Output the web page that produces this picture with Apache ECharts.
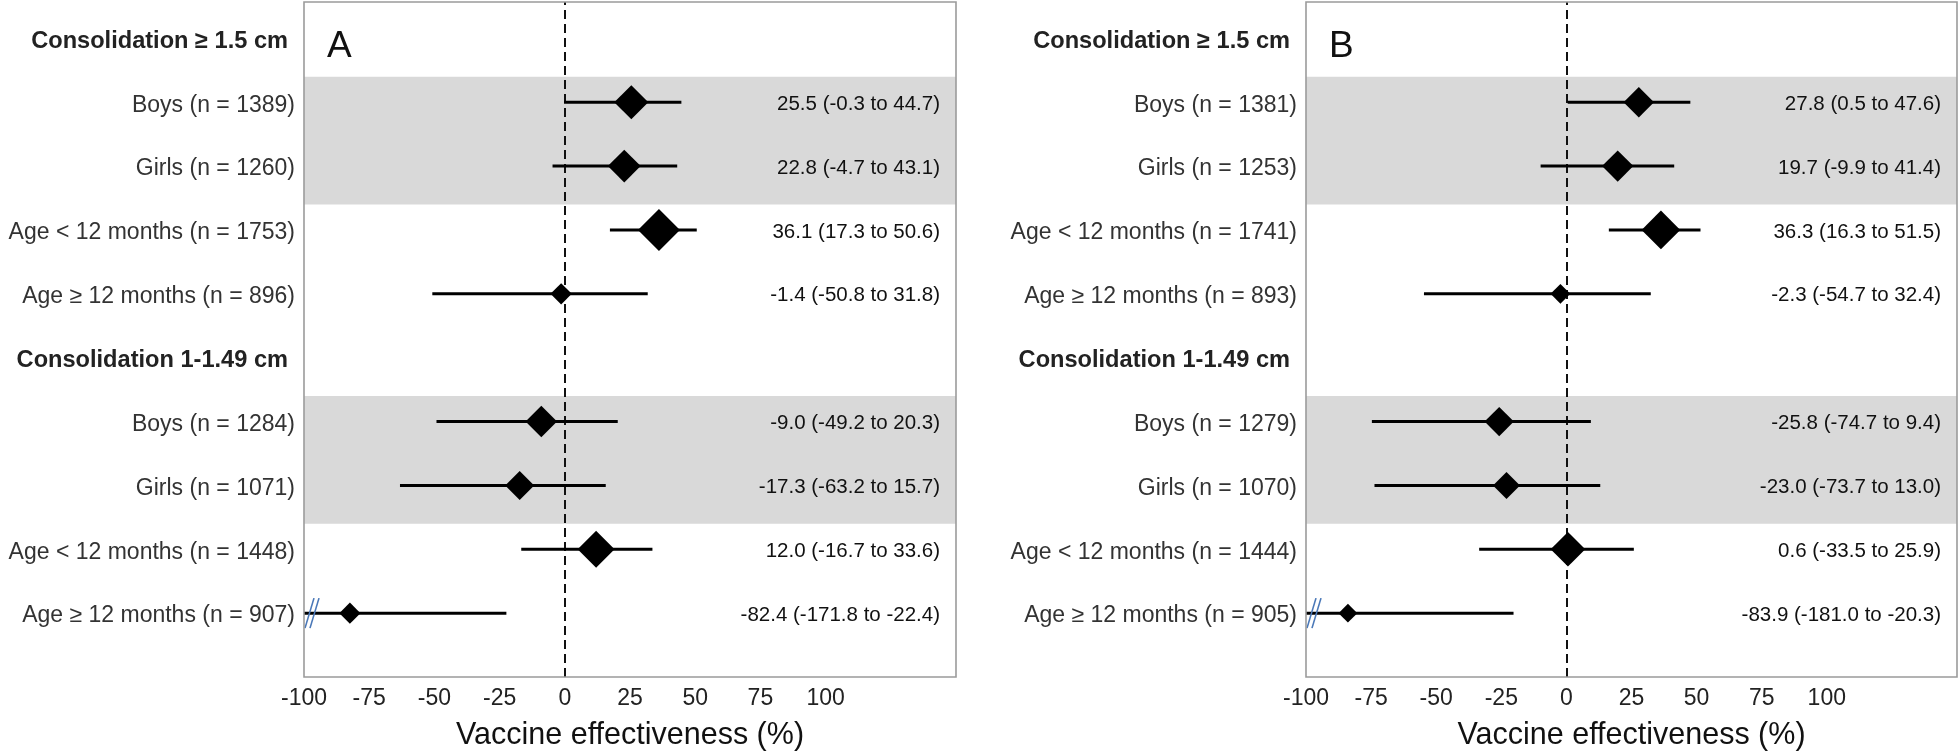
<!DOCTYPE html>
<html><head><meta charset="utf-8">
<script src="https://cdn.jsdelivr.net/npm/echarts@6/dist/echarts.min.js"></script>
<style>html,body{margin:0;padding:0;background:#fff}#c{width:1960px;height:756px}</style>
</head><body><div id="c"></div>
<script>
// ---------- data ----------
const rowLabelsA = ['Consolidation ≥ 1.5 cm','Boys (n = 1389)','Girls (n = 1260)','Age < 12 months (n = 1753)','Age ≥ 12 months (n = 896)','Consolidation 1-1.49 cm','Boys (n = 1284)','Girls (n = 1071)','Age < 12 months (n = 1448)','Age ≥ 12 months (n = 907)'];
const rowLabelsB = ['Consolidation ≥ 1.5 cm','Boys (n = 1381)','Girls (n = 1253)','Age < 12 months (n = 1741)','Age ≥ 12 months (n = 893)','Consolidation 1-1.49 cm','Boys (n = 1279)','Girls (n = 1070)','Age < 12 months (n = 1444)','Age ≥ 12 months (n = 905)'];
const headerRows = [0, 5];
const shadedRows = [[1, 2], [6, 7]];
const estA  = [null, 25.5, 22.8, 36.1, -1.4, null, -9.0, -17.3, 12.0, -82.4];
const lowA  = [null, -0.3, -4.7, 17.3, -50.8, null, -49.2, -63.2, -16.7, -171.8];
const highA = [null, 44.7, 43.1, 50.6, 31.8, null, 20.3, 15.7, 33.6, -22.4];
const estB  = [null, 27.8, 19.7, 36.3, -2.3, null, -25.8, -23.0, 0.6, -83.9];
const lowB  = [null, 0.5, -9.9, 16.3, -54.7, null, -74.7, -73.7, -33.5, -181.0];
const highB = [null, 47.6, 41.4, 51.5, 32.4, null, 9.4, 13.0, 25.9, -20.3];
const xTickMin = -100, xTickMax = 100, xTickStep = 25;
const panelLetters = ['A', 'B'];
const xAxisTitle = 'Vaccine effectiveness (%)';

// ---------- layout / style ----------
const FONT = '"Liberation Sans", Arial, Helvetica, sans-serif';
const XMIN = -100, XMAX = 150;
const NROWS = rowLabelsA.length;
const YMAX = NROWS + 0.57;
const rowVal = i => NROWS - i;
const gridLefts = [304, 1306];
const GRID_W = 652, GRID_TOP = 2, GRID_H = 680;

// diamond size from CI width on the log odds-ratio scale (inverse-SE weight)
function diamondSize(lo, hi) {
  const w = Math.log((1 - lo / 100) / (1 - hi / 100));
  return 30.4 / w - 17;
}

const panels = [
  {labels: rowLabelsA, est: estA, low: lowA, high: highA},
  {labels: rowLabelsB, est: estB, low: lowB, high: highB}
];

const grid = [], xAxis = [], yAxis = [], series = [], graphic = [];
panels.forEach((p, k) => {
  grid.push({left: gridLefts[k], width: GRID_W, top: GRID_TOP, height: GRID_H,
    show: true, backgroundColor: 'transparent', borderColor: '#9b9b9b', borderWidth: 1.6, z: 10});
  xAxis.push({type: 'value', gridIndex: k, min: XMIN, max: XMAX, interval: xTickStep,
    axisLine: {show: false}, axisTick: {show: false}, splitLine: {show: false},
    axisLabel: {fontSize: 23, color: '#222', fontFamily: FONT, margin: 10,
      formatter: v => (v >= xTickMin && v <= xTickMax) ? String(v) : ''},
    name: xAxisTitle, nameLocation: 'middle', nameGap: 43,
    nameTextStyle: {fontSize: 30.5, color: '#111', fontFamily: FONT}});
  yAxis.push({type: 'value', gridIndex: k, min: 0, max: YMAX, interval: 1,
    axisLine: {show: false}, axisTick: {show: false}, splitLine: {show: false},
    axisLabel: {margin: 9, fontFamily: FONT,
      formatter: v => {
        const i = NROWS - v;
        if (Math.abs(i - Math.round(i)) > 1e-6) return '';
        const r = Math.round(i);
        if (r < 0 || r >= NROWS) return '';
        return headerRows.includes(r) ? '{h|' + p.labels[r] + '}' : '{n|' + p.labels[r] + '}';
      },
      rich: {
        h: {fontSize: 23.6, fontWeight: 'bold', color: '#222', fontFamily: FONT, padding: [6, 7, 0, 0]},
        n: {fontSize: 23, color: '#333', fontFamily: FONT, padding: [6, 0, 0, 0]}
      }}});

  const ciData = [], ptData = [], txtData = [];
  p.est.forEach((e, i) => {
    if (e === null) return;
    ciData.push([p.low[i], p.high[i], rowVal(i)]);
    ptData.push([e, rowVal(i), p.low[i], p.high[i]]);
    txtData.push([e, rowVal(i), p.low[i], p.high[i]]);
  });

  // CI lines + axis-break marks
  series.push({type: 'custom', xAxisIndex: k, yAxisIndex: k, z: 3, silent: true,
    encode: {x: [0, 1], y: 2}, data: ciData,
    renderItem: (params, api) => {
      const lo = api.value(0), hi = api.value(1), y = api.value(2);
      const a = api.coord([Math.max(lo, XMIN), y]);
      const b = api.coord([hi, y]);
      const ch = [{type: 'line', shape: {x1: a[0], y1: a[1], x2: b[0], y2: b[1]},
        style: {stroke: '#000', lineWidth: 3}}];
      if (lo < XMIN) {
        [0, 5].forEach(dx => ch.push({type: 'line',
          shape: {x1: a[0] + 1 + dx, y1: a[1] + 15, x2: a[0] + 10 + dx, y2: a[1] - 15},
          style: {stroke: '#4a78b8', lineWidth: 1.6}, z2: 5}));
      }
      return {type: 'group', children: ch};
    },
    markArea: {silent: true, z: 1, itemStyle: {color: '#d9d9d9', borderWidth: 0},
      data: shadedRows.map(([r1, r2]) => [{yAxis: rowVal(r2) - 0.6}, {yAxis: rowVal(r1) + 0.4}])},
    markLine: {silent: true, z: 2, symbol: ['none', 'none'], label: {show: false},
      lineStyle: {type: [9, 5], width: 2, color: '#111'},
      data: [{xAxis: 0}]}
  });

  // diamonds
  series.push({type: 'scatter', xAxisIndex: k, yAxisIndex: k, z: 4, silent: true,
    symbol: 'diamond', symbolSize: v => diamondSize(v[2], v[3]),
    itemStyle: {color: '#000', opacity: 1}, data: ptData});

  // estimate text
  series.push({type: 'custom', xAxisIndex: k, yAxisIndex: k, z: 4, silent: true,
    encode: {x: 0, y: 1}, data: txtData,
    renderItem: (params, api) => {
      const e = api.value(0), y = api.value(1), lo = api.value(2), hi = api.value(3);
      const pt = api.coord([XMAX, y]);
      return {type: 'text', x: pt[0] - 16, y: pt[1] + 2,
        style: {text: e.toFixed(1) + ' (' + lo.toFixed(1) + ' to ' + hi.toFixed(1) + ')',
          fontSize: 20.5, fontFamily: FONT, fill: '#111', align: 'right', verticalAlign: 'middle'}};
    }});

  graphic.push({type: 'text', x: gridLefts[k] + 23, y: 47, z: 20,
    style: {text: panelLetters[k], fontSize: 37, fontFamily: FONT, fill: '#111', verticalAlign: 'middle'}});
});

const chart = echarts.init(document.getElementById('c'), null, {renderer: 'canvas'});
chart.setOption({
  animation: false,
  backgroundColor: '#fff',
  textStyle: {fontFamily: FONT},
  grid, xAxis, yAxis, series, graphic
});
</script>
</body></html>
